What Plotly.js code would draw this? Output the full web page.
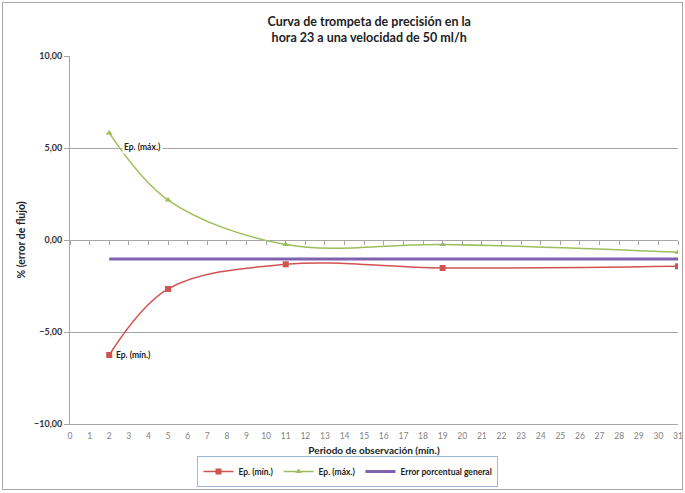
<!DOCTYPE html>
<html>
<head>
<meta charset="utf-8">
<script src="https://cdn.plot.ly/plotly-3.0.1.min.js"></script>
<style>
html,body{margin:0;padding:0;background:#fff;}
#wrap{position:relative;width:685px;height:493px;}
#chart{width:685px;height:493px;}
#frame{position:absolute;left:2px;top:2px;width:679px;height:486px;border:1px solid #a6a6a6;pointer-events:none;}
</style>
</head>
<body>
<div id="wrap"><div id="chart"></div><div id="frame"></div></div>
<script>
// Data
const obsMinutes = [2, 5, 11, 19, 31];
const epMin = [-6.25, -2.66, -1.32, -1.52, -1.43];
const epMax = [5.82, 2.17, -0.25, -0.24, -0.66];
const generalX = [2, 31];
const generalErr = [-1.03, -1.03];
const xTickVals = [0,1,2,3,4,5,6,7,8,9,10,11,12,13,14,15,16,17,18,19,20,21,22,23,24,25,26,27,28,29,30,31];
const seriesNames = ['Ep. (mín.)', 'Ep. (máx.)', 'Error porcentual general'];
const titleText = 'Curva de trompeta de precisión en la<br>hora 23 a una velocidad de 50 ml/h';
const xTitle = 'Periodo de observación (mín.)';
const yTitle = '% (error de flujo)';

const FONT = 'Lato, "Open Sans", sans-serif';
const RED = '#CF5450', GREEN = '#9DBE5B', PURPLE = '#7E62AD';

const traces = [
  {x: obsMinutes, y: epMin, name: seriesNames[0], type: 'scatter', mode: 'lines+markers',
   line: {color: RED, width: 1.5, shape: 'spline', smoothing: 1},
   marker: {symbol: 'square', size: 6, color: RED}, hoverinfo: 'x+y'},
  {x: obsMinutes, y: epMax, name: seriesNames[1], type: 'scatter', mode: 'lines+markers',
   line: {color: GREEN, width: 1.5, shape: 'spline', smoothing: 1},
   marker: {symbol: 'triangle-up', size: 6, color: GREEN}, hoverinfo: 'x+y'},
  {x: generalX, y: generalErr, name: seriesNames[2], type: 'scatter', mode: 'lines',
   line: {color: PURPLE, width: 3}, hoverinfo: 'x+y'},
  // invisible helper so the zero-crossing tick axis is drawn
  {x: xTickVals, y: xTickVals.map(() => null), xaxis: 'x2', yaxis: 'y', mode: 'none',
   showlegend: false, hoverinfo: 'skip', type: 'scatter'}
];

const layout = {
  width: 685, height: 493,
  margin: {l: 70, r: 7, t: 56, b: 69},
  paper_bgcolor: '#fff', plot_bgcolor: '#fff',
  separators: ',.',
  font: {family: FONT, color: '#333'},
  title: {text: titleText, font: {family: FONT, size: 12.5, color: '#222', weight: 'bold'},
          x: 0.539, xref: 'container', xanchor: 'center', y: 0.947, yref: 'container', yanchor: 'middle'},
  xaxis: {range: [0, 31], tickvals: xTickVals, ticktext: xTickVals.map(String),
          showgrid: false, zeroline: false, showline: true, linecolor: '#a6a6a6', linewidth: 1,
          ticks: 'outside', ticklen: 4, tickcolor: 'rgba(0,0,0,0)',
          tickfont: {family: FONT, size: 8.5, color: '#7f7f7f'},
          title: {text: xTitle, font: {family: FONT, size: 10, color: '#222', weight: 'bold'}, standoff: 8}},
  xaxis2: {range: [0, 31], overlaying: 'x', anchor: 'free', position: 0.5, tickvals: xTickVals,
           showticklabels: false, showgrid: false, zeroline: false, showline: false,
           ticks: 'outside', ticklen: 4, tickcolor: '#a6a6a6', side: 'bottom'},
  yaxis: {range: [-10, 10], dtick: 5, tick0: 0, tickformat: '.2f',
          showgrid: true, gridcolor: '#a6a6a6', gridwidth: 1,
          zeroline: true, zerolinecolor: '#a6a6a6', zerolinewidth: 1,
          showline: true, linecolor: '#a6a6a6', linewidth: 1,
          ticks: 'outside', ticklen: 5, tickcolor: '#a6a6a6',
          tickfont: {family: FONT, size: 9, color: '#333', weight: 'bold'},
          title: {text: yTitle, font: {family: FONT, size: 10.5, color: '#222', weight: 'bold'}, standoff: 6}},
  showlegend: true,
  legend: {orientation: 'h', xref: 'container', yref: 'container', x: 0.508, xanchor: 'center',
           y: 0.012, yanchor: 'bottom', bordercolor: '#9db9d9', borderwidth: 1, bgcolor: '#fff',
           font: {family: FONT, size: 8.5, color: '#222', weight: 'bold'}, itemwidth: 30,
           tracegroupgap: 0},
  annotations: [
    {x: obsMinutes[0], y: epMax[0], xref: 'x', yref: 'y', text: seriesNames[1], showarrow: false,
     xanchor: 'left', yanchor: 'middle', xshift: 13, yshift: -14, bgcolor: '#fff',
     font: {family: FONT, size: 8.5, color: '#222', weight: 'bold'}},
    {x: obsMinutes[0], y: epMin[0], xref: 'x', yref: 'y', text: seriesNames[0], showarrow: false,
     xanchor: 'left', yanchor: 'middle', xshift: 5, yshift: 0,
     font: {family: FONT, size: 8.5, color: '#222', weight: 'bold'}}
  ]
};

Plotly.newPlot('chart', traces, layout, {displayModeBar: false, staticPlot: true});
</script>
</body>
</html>
